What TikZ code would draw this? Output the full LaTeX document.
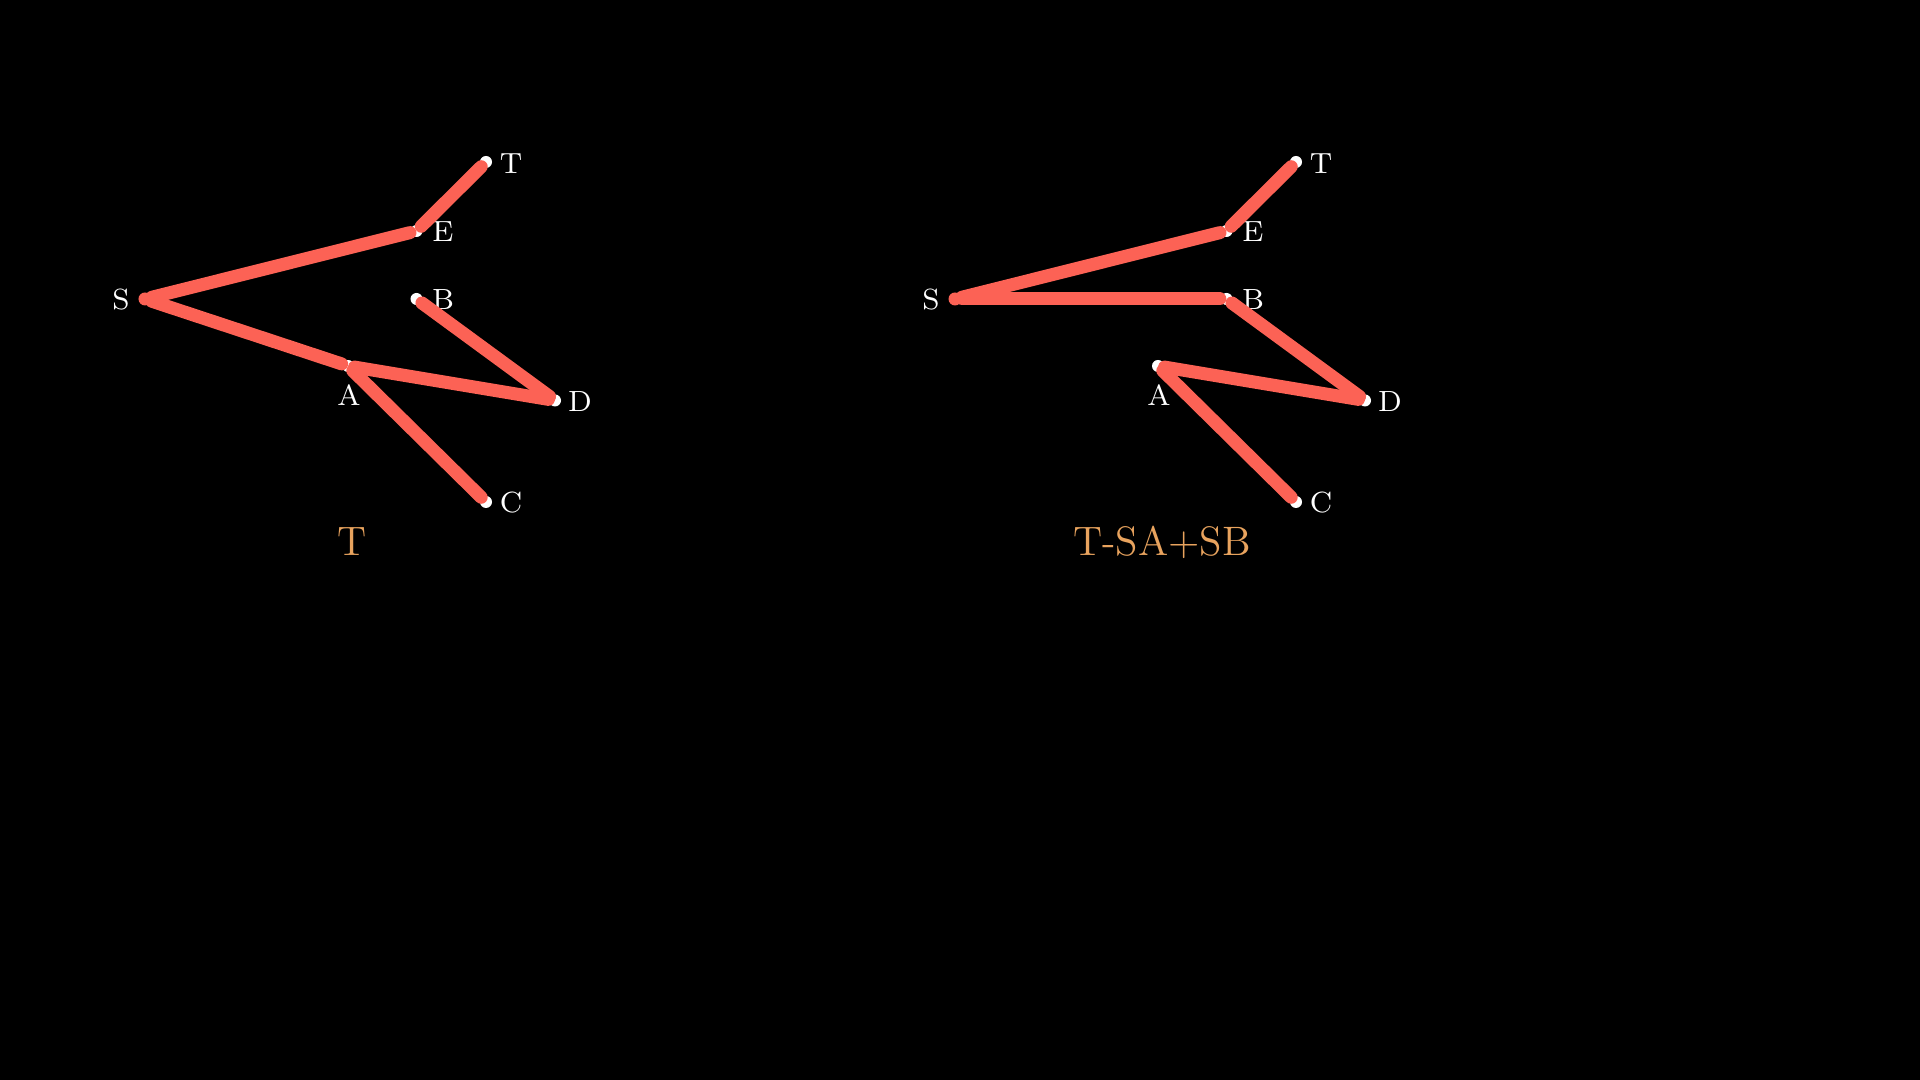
\documentclass[tikz,border=0pt]{standalone}
\usetikzlibrary{backgrounds}
\definecolor{edgered}{HTML}{FC6255}
\definecolor{titleorange}{HTML}{E8A35E}
\tikzset{
  vdot/.style={circle,fill=white,inner sep=0pt,minimum size=0.12cm},
  sdot/.style={circle,fill=edgered,inner sep=0pt,minimum size=0.13cm},
  vlab/.style={text=white,font=\fontsize{8.3}{10}\selectfont,inner sep=0pt},
  edge/.style={draw=edgered,line width=0.13cm,line cap=round},
  ttl/.style={text=titleorange,font=\fontsize{11.7}{14}\selectfont,inner sep=0pt}
}
\begin{document}
\begin{tikzpicture}[x=0.01cm,y=-0.01cm]
\fill[black] (0,0) rectangle (1920,1080);
\useasboundingbox (0,0) rectangle (1920,1080);
% left graph
\node[sdot] (lS) at (145,299) {};
\node[vdot] (lE) at (416.5,231) {};
\node[vdot] (lT) at (486,162) {};
\node[vdot] (lB) at (416.5,299) {};
\node[vdot] (lA) at (348,366) {};
\node[vdot] (lD) at (555,400.5) {};
\node[vdot] (lC) at (486,502) {};
\node[vlab] (llS) at (121,300) {S};
\node[vlab] (llE) at (443,232) {E};
\node[vlab] (llT) at (511,164) {T};
\node[vlab] (llB) at (443,300) {B};
\node[vlab] (llA) at (349,395) {A};
\node[vlab] (llD) at (580,402) {D};
\node[vlab] (llC) at (511,503) {C};
\draw[edge] (lS) -- (lE);
\draw[edge] (lE) -- (lT);
\draw[edge] (lS) -- (lA);
\draw[edge] (lA) -- (lD);
\draw[edge] (lD) -- (lB);
\draw[edge] (lA) -- (lC);
\node[ttl] (lt) at (352,542) {T};
% right graph
\node[sdot] (rS) at (955,299) {};
\node[vdot] (rE) at (1226.5,231) {};
\node[vdot] (rT) at (1296,162) {};
\node[vdot] (rB) at (1226.5,299) {};
\node[vdot] (rA) at (1158,366) {};
\node[vdot] (rD) at (1365,400.5) {};
\node[vdot] (rC) at (1296,502) {};
\node[vlab] (rlS) at (931,300) {S};
\node[vlab] (rlE) at (1253,232) {E};
\node[vlab] (rlT) at (1321,164) {T};
\node[vlab] (rlB) at (1253,300) {B};
\node[vlab] (rlA) at (1159,395) {A};
\node[vlab] (rlD) at (1390,402) {D};
\node[vlab] (rlC) at (1321,503) {C};
\draw[edge] (rS) -- (rE);
\draw[edge] (rE) -- (rT);
\draw[edge] (rS) -- (rB);
\draw[edge] (rB) -- (rD);
\draw[edge] (rD) -- (rA);
\draw[edge] (rA) -- (rC);
\node[ttl] (rt) at (1162,542) {T-SA+SB};
\end{tikzpicture}
\end{document}
